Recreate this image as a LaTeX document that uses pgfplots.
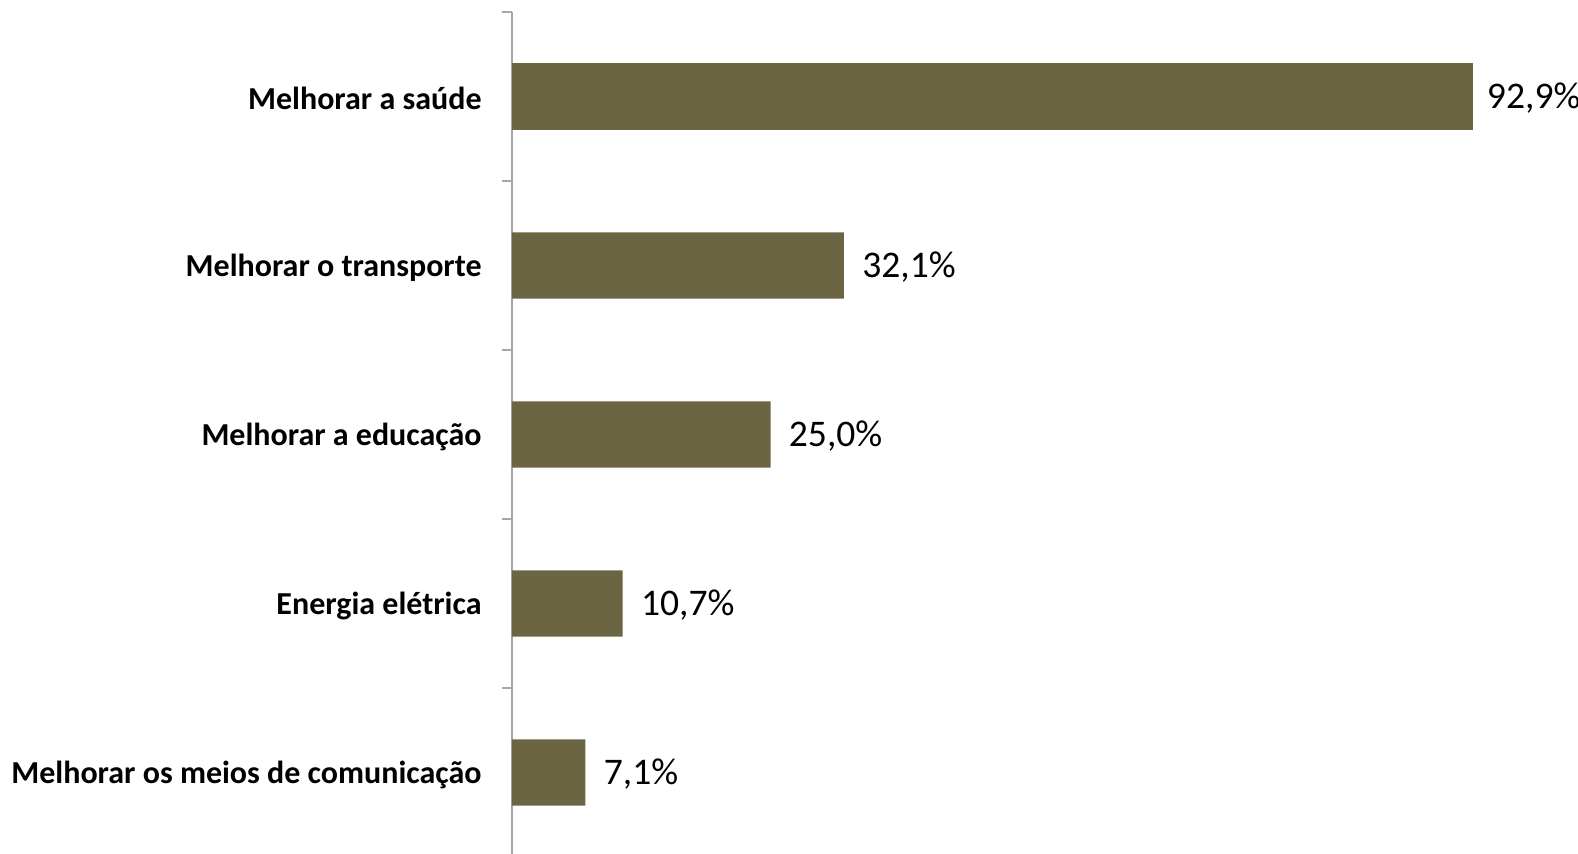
\documentclass[border=0pt]{standalone}
\usepackage{pgfplots}
\pgfplotsset{compat=1.18}
\usepackage{fontspec}
\setmainfont{Carlito}
\definecolor{barcol}{HTML}{6B6543}
\definecolor{axcol}{HTML}{A6A6A6}
\begin{document}
\begin{tikzpicture}
\fontsize{18}{21}\selectfont
\begin{axis}[
  at={(0pt,0pt)}, anchor=south west,
  scale only axis,
  width=517pt, height=422.5pt,
  xbar, bar width=0.393, bar shift=0pt,
  xmin=0, xmax=100,
  ymin=-0.5, ymax=4.5,
  axis x line=none,
  axis y line*=left,
  y axis line style={draw=axcol, line width=1pt},
  ytick={0,1,2,3,4},
  yticklabels={Melhorar os meios de comunicação, Energia elétrica, Melhorar a educação, Melhorar o transporte, Melhorar a saúde},
  yticklabel style={font=\fontsize{16}{19}\selectfont\bfseries, text=black, xshift=-9pt, yshift=-1pt},
  major tick length=0pt,
  extra y ticks={-0.5,0.5,1.5,2.5,3.5,4.5},
  extra y tick labels={},
  extra y tick style={major tick length=5pt, tick align=outside, tick style={draw=axcol, line width=1pt}},
  /pgf/number format/assume math mode=true,
  point meta=x,
  nodes near coords={\pgfmathprintnumber[fixed,fixed zerofill,precision=1,use comma,assume math mode=true]{\pgfplotspointmeta}\%},
  nodes near coords style={font=\fontsize{18.8}{22}\selectfont, text=black, anchor=west, xshift=3pt, yshift=-1pt},
  clip=false,
]
\addplot[fill=barcol, draw=none] coordinates {(7.1,0) (10.7,1) (25.0,2) (32.1,3)};
\addplot[fill=barcol, draw=none, nodes near coords style={xshift=-2pt}] coordinates {(92.9,4)};
\end{axis}
\pgfresetboundingbox
\useasboundingbox (-256pt,1.5pt) rectangle (533pt,428.5pt);
\end{tikzpicture}
\end{document}
